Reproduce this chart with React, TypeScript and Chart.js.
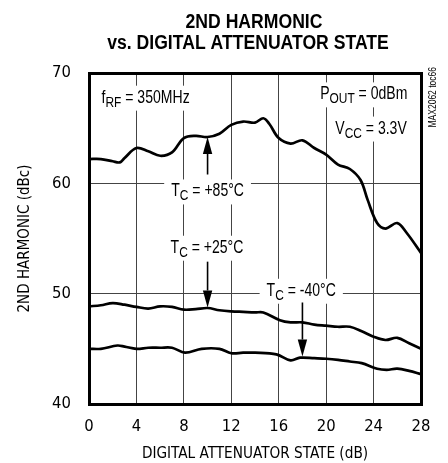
import React, { useEffect, useRef } from "react";
import { Chart, registerables } from "chart.js";

Chart.register(...registerables);

// ---- data ----
const xTickValues = [0, 4, 8, 12, 16, 20, 24, 28];
const yTickValues = [40, 50, 60, 70];

const attenHot = [0, 1, 2, 2.6, 3, 4, 5, 6, 7, 8, 9, 10, 11, 12, 13, 14, 14.7, 15.2, 16, 17, 18, 19, 20, 21, 22, 22.9, 23.5, 24.3, 25, 26, 26.8, 28];
const harmHot = [62.2, 62.2, 62.0, 61.9, 62.3, 63.2, 62.9, 62.5, 62.8, 64.1, 64.3, 64.2, 64.5, 65.3, 65.6, 65.5, 65.9, 65.4, 64.1, 63.6, 63.9, 63.2, 62.6, 61.7, 61.3, 60.3, 58.5, 56.4, 55.9, 56.4, 55.5, 53.7];

const attenRoom = [0, 1, 2, 3, 4, 5, 6, 7, 8, 9, 10, 11, 12, 13, 14, 14.7, 16.1, 17, 18, 19, 20, 21, 22, 23, 24, 25, 26, 27, 28];
const harmRoom = [48.85, 48.95, 49.15, 49.0, 48.8, 48.65, 48.85, 48.8, 48.55, 48.6, 48.7, 48.5, 48.4, 48.35, 48.3, 48.3, 47.6, 47.4, 47.4, 47.2, 47.1, 47.0, 47.0, 46.6, 46.1, 45.8, 46.0, 45.5, 45.0];

const attenCold = [0, 1, 2.4, 3, 4, 5, 6, 7, 8.1, 9.5, 11, 12, 13, 14, 15.8, 17, 17.8, 19, 20, 21, 22, 23, 24.3, 25.1, 26, 27, 28];
const harmCold = [45.0, 45.0, 45.3, 45.2, 45.0, 45.1, 45.1, 45.1, 44.65, 45.0, 45.0, 44.6, 44.65, 44.65, 44.5, 43.95, 44.2, 44.15, 44.1, 44.0, 43.85, 43.7, 43.2, 43.1, 43.2, 43.0, 42.7];

const AXIS_FONT = "'DejaVu Sans Condensed', 'Liberation Sans Narrow', sans-serif";
const TEXT_FONT = "'Liberation Sans', Arial, sans-serif";

type Part = { t: string; sub?: boolean };

function drawRich(
  ctx: CanvasRenderingContext2D,
  parts: Part[],
  x: number,
  cy: number,
  size: number,
  align: "left" | "center" | "right",
  box: boolean
) {
  const sx = 0.78;
  const subSize = size * 0.85;
  const widths = parts.map((p) => {
    ctx.font = `${p.sub ? subSize : size}px ${TEXT_FONT}`;
    return ctx.measureText(p.t).width;
  });
  const wRaw = widths.reduce((a, b) => a + b, 0);
  const w = wRaw * sx;
  const left = align === "left" ? x : align === "center" ? x - w / 2 : x - w;
  const capH = size * 0.72;
  const base = cy + capH / 2;
  if (box) {
    ctx.fillStyle = "#fff";
    ctx.fillRect(left - 7, cy - capH / 2 - 4, w + 14, capH + 12);
  }
  ctx.save();
  ctx.translate(left, 0);
  ctx.scale(sx, 1);
  ctx.fillStyle = "#000";
  ctx.textAlign = "left";
  ctx.textBaseline = "alphabetic";
  let cx = 0;
  parts.forEach((p, i) => {
    ctx.font = `${p.sub ? subSize : size}px ${TEXT_FONT}`;
    ctx.fillText(p.t, cx, p.sub ? base + 4 : base);
    cx += widths[i];
  });
  ctx.restore();
}

function drawArrow(ctx: CanvasRenderingContext2D, x: number, y0: number, y1: number) {
  const dir = Math.sign(y1 - y0);
  const headLen = 17;
  const headW = 4.7;
  ctx.strokeStyle = "#000";
  ctx.fillStyle = "#000";
  ctx.lineWidth = 1.6;
  ctx.beginPath();
  ctx.moveTo(x, y0);
  ctx.lineTo(x, y1 - dir * headLen);
  ctx.stroke();
  ctx.beginPath();
  ctx.moveTo(x, y1);
  ctx.lineTo(x - headW, y1 - dir * headLen);
  ctx.lineTo(x + headW, y1 - dir * headLen);
  ctx.closePath();
  ctx.fill();
}

function drawTitleLine(ctx: CanvasRenderingContext2D, text: string, cx: number, cy: number) {
  const sx = 0.88;
  ctx.save();
  ctx.font = `bold 20px ${TEXT_FONT}`;
  const w = ctx.measureText(text).width * sx;
  ctx.translate(cx - w / 2, cy);
  ctx.scale(sx, 1);
  ctx.fillStyle = "#000";
  ctx.textAlign = "left";
  ctx.textBaseline = "alphabetic";
  ctx.fillText(text, 0, 7.2);
  ctx.restore();
}

const overlayPlugin = {
  id: "overlay",
  afterDraw(chart: any) {
    const ctx: CanvasRenderingContext2D = chart.ctx;
    const xs = chart.scales.x;
    const ys = chart.scales.y;
    const px = (v: number) => xs.getPixelForValue(v);
    const py = (v: number) => ys.getPixelForValue(v);
    const a = chart.chartArea;
    ctx.save();

    // title
    drawTitleLine(ctx, "2ND HARMONIC", 254, 21);
    drawTitleLine(ctx, "vs. DIGITAL ATTENUATOR STATE", 248, 42);

    // condition labels
    drawRich(ctx, [{ t: "f" }, { t: "RF", sub: true }, { t: " = 350MHz" }], px(1.06), py(67.9), 18, "left", true);
    drawRich(ctx, [{ t: "P" }, { t: "OUT", sub: true }, { t: " = 0dBm" }], px(26.85), py(68.2), 18, "right", true);
    drawRich(ctx, [{ t: "V" }, { t: "CC", sub: true }, { t: " = 3.3V" }], px(26.8), py(65.1), 18, "right", true);

    // temperature labels
    drawRich(ctx, [{ t: "T" }, { t: "C", sub: true }, { t: " = +85°C" }], px(10.0), py(59.4), 18, "center", true);
    drawRich(ctx, [{ t: "T" }, { t: "C", sub: true }, { t: " = +25°C" }], px(9.95), py(54.3), 18, "center", true);
    drawRich(ctx, [{ t: "T" }, { t: "C", sub: true }, { t: " = -40°C" }], px(17.9), py(50.4), 18, "center", true);

    // arrows
    drawArrow(ctx, px(10), py(60.8), py(64.2));
    drawArrow(ctx, px(10), py(52.9), py(48.75));
    drawArrow(ctx, px(18), py(49.2), py(44.3));

    // frame
    ctx.strokeStyle = "#000";
    ctx.lineWidth = 3;
    ctx.strokeRect(a.left + 0.5, a.top + 0.5, a.right - a.left, a.bottom - a.top);

    // side note
    ctx.translate(433, a.top - 6);
    ctx.rotate(-Math.PI / 2);
    ctx.scale(0.85, 1);
    ctx.textAlign = "right";
    ctx.textBaseline = "middle";
    ctx.font = `10px ${TEXT_FONT}`;
    ctx.fillStyle = "#000";
    ctx.fillText("MAX2062 toc66", 0, 0);
    ctx.restore();
  },
};

export default function App() {
  const ref = useRef<HTMLCanvasElement | null>(null);
  useEffect(() => {
    if (!ref.current) return;
    const mk = (xv: number[], yv: number[]) => xv.map((x, i) => ({ x, y: yv[i] }));
    const ds = (label: string, data: any[]) => ({
      label,
      data,
      borderColor: "#000",
      borderWidth: 2.7,
      pointRadius: 0,
      tension: 0.35,
      fill: false,
    });
    const chart = new Chart(ref.current, {
      type: "line",
      data: {
        datasets: [
          ds("+85°C", mk(attenHot, harmHot)),
          ds("+25°C", mk(attenRoom, harmRoom)),
          ds("-40°C", mk(attenCold, harmCold)),
        ],
      },
      options: {
        responsive: false,
        animation: false,
        devicePixelRatio: 1,
        layout: { padding: { top: 73, right: 27, left: 0, bottom: 0 } },
        plugins: { legend: { display: false }, tooltip: { enabled: false }, title: { display: false } },
        scales: {
          x: {
            type: "linear",
            min: 0,
            max: 28,
            afterFit: (s: any) => {
              s.height = 59;
            },
            afterBuildTicks: (s: any) => {
              s.ticks = xTickValues.map((v) => ({ value: v }));
            },
            ticks: { color: "#000", padding: 13, font: { family: AXIS_FONT, size: 16.5 } },
            grid: {
              color: (c: any) => (c.tick && (c.tick.value === 0 || c.tick.value === 28) ? "rgba(0,0,0,0)" : "#444"),
              lineWidth: 1,
              drawTicks: false,
            },
            border: { display: false },
            title: {
              display: true,
              text: "DIGITAL ATTENUATOR STATE (dB)",
              color: "#000",
              font: { family: AXIS_FONT, size: 15.2, lineHeight: 1.2 },
              padding: { top: 0, bottom: 0 },
            },
          },
          y: {
            type: "linear",
            min: 40,
            max: 70,
            afterFit: (s: any) => {
              s.width = 89;
            },
            afterBuildTicks: (s: any) => {
              s.ticks = yTickValues.map((v) => ({ value: v }));
            },
            ticks: { color: "#000", padding: 18, font: { family: AXIS_FONT, size: 16.5 } },
            grid: {
              color: (c: any) => (c.tick && (c.tick.value === 40 || c.tick.value === 70) ? "rgba(0,0,0,0)" : "#444"),
              lineWidth: 1,
              drawTicks: false,
            },
            border: { display: false },
            title: {
              display: true,
              text: "2ND HARMONIC (dBc)",
              color: "#000",
              font: { family: AXIS_FONT, size: 15, lineHeight: 1.2 },
              padding: { top: 16, bottom: 0 },
            },
          },
        },
      },
      plugins: [overlayPlugin],
    });
    return () => chart.destroy();
  }, []);
  return (
    <div style={{ position: "fixed", left: 0, top: 0, width: 448, height: 463, background: "#fff" }}>
      <canvas ref={ref} width={448} height={463} style={{ display: "block" }} />
    </div>
  );
}
